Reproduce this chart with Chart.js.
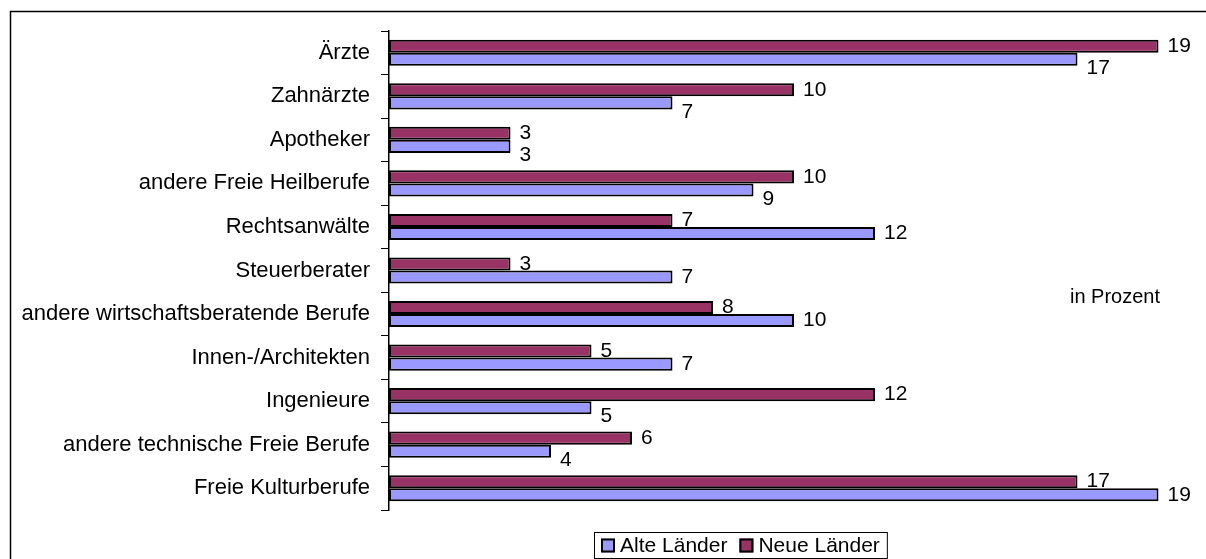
<!DOCTYPE html>
<html>
<head>
<meta charset="utf-8">
<script src="https://cdn.jsdelivr.net/npm/chart.js@4/dist/chart.umd.min.js"></script>
<style>
    html, body { margin: 0; padding: 0; background: #fff; }
    #wrap { position: relative; width: 1206px; height: 559px; }
</style>
</head>
<body>
<div id="wrap"><canvas id="chart" width="1206" height="559"></canvas></div>
<script>
const categories = ['Ärzte', 'Zahnärzte', 'Apotheker', 'andere Freie Heilberufe', 'Rechtsanwälte',
    'Steuerberater', 'andere wirtschaftsberatende Berufe', 'Innen-/Architekten', 'Ingenieure',
    'andere technische Freie Berufe', 'Freie Kulturberufe'];
const neueLaender = [19, 10, 3, 10, 7, 3, 8, 5, 12, 6, 17];
const alteLaender = [17, 7, 3, 9, 12, 7, 10, 7, 5, 4, 19];
const unitNote = 'in Prozent';

const FONT = '"Liberation Sans", Arial, sans-serif';

// frame, value labels, note and legend box
const decorations = {
    id: 'decorations',
    beforeDraw(chart) {
        const ctx = chart.ctx;
        ctx.save();
        ctx.strokeStyle = '#000';
        ctx.lineWidth = 1.5;
        ctx.beginPath();
        ctx.moveTo(10.5, chart.height);
        ctx.lineTo(10.5, 11.5);
        ctx.lineTo(chart.width, 11.5);
        ctx.stroke();
        ctx.restore();
    },
    afterDatasetsDraw(chart) {
        const ctx = chart.ctx;
        ctx.save();
        ctx.font = '21px ' + FONT;
        ctx.fillStyle = '#000';
        ctx.textAlign = 'left';
        ctx.textBaseline = 'middle';
        const neueMeta = chart.getDatasetMeta(0);
        const alteMeta = chart.getDatasetMeta(1);
        neueMeta.data.forEach((bar, i) => {
            ctx.fillText(String(neueLaender[i]), bar.x + 9, bar.y);
        });
        alteMeta.data.forEach((bar, i) => {
            // pushed below the bar when the upper bar reaches at least as far
            const dy = alteLaender[i] <= neueLaender[i] ? 9 : 0;
            ctx.fillText(String(alteLaender[i]), bar.x + 9, bar.y + dy);
        });
        ctx.font = '20px ' + FONT;
        ctx.fillText(unitNote, 1070, 297);
        ctx.restore();
    },
    afterDraw(chart) {
        const ctx = chart.ctx;
        const sets = [chart.data.datasets[1], chart.data.datasets[0]];
        ctx.save();
        ctx.font = '21px ' + FONT;
        ctx.textBaseline = 'middle';
        const box = 14, gap = 5, itemGap = 12, pad = 7;
        let total = pad;
        sets.forEach((ds, k) => {
            total += box + gap + ctx.measureText(ds.label).width;
            if (k < sets.length - 1) total += itemGap;
        });
        total += pad;
        const left = Math.round(740 - total / 2);
        const top = 532, h = 26;
        ctx.strokeStyle = '#000';
        ctx.lineWidth = 1;
        ctx.strokeRect(left + 0.5, top + 0.5, total, h);
        let x = left + pad;
        const cy = top + h / 2 + 0.5;
        sets.forEach(ds => {
            ctx.fillStyle = ds.backgroundColor;
            ctx.fillRect(x, cy - box / 2, box, box);
            ctx.lineWidth = 2;
            ctx.strokeRect(x + 1, cy - box / 2 + 1, box - 2, box - 2);
            x += box + gap;
            ctx.fillStyle = '#000';
            ctx.fillText(ds.label, x, cy + 1);
            x += ctx.measureText(ds.label).width + itemGap;
        });
        ctx.restore();
    }
};

new Chart(document.getElementById('chart'), {
    type: 'bar',
    data: {
        labels: categories,
        datasets: [
            {
                label: 'Neue Länder',
                data: neueLaender,
                backgroundColor: '#993366',
                borderColor: '#000',
                borderWidth: 2,
                borderSkipped: false,
                categoryPercentage: 0.6,
                barPercentage: 1
            },
            {
                label: 'Alte Länder',
                data: alteLaender,
                backgroundColor: '#9999FF',
                borderColor: '#000',
                borderWidth: 2,
                borderSkipped: false,
                categoryPercentage: 0.6,
                barPercentage: 1
            }
        ]
    },
    options: {
        indexAxis: 'y',
        responsive: false,
        animation: false,
        layout: { padding: { top: 31, right: 7, bottom: 49, left: 0 } },
        plugins: {
            legend: { display: false },
            tooltip: { enabled: false }
        },
        scales: {
            x: {
                display: false,
                min: 0,
                max: 20
            },
            y: {
                afterFit(scale) { scale.width = 389; },
                grid: {
                    offset: true,
                    drawOnChartArea: false,
                    drawTicks: true,
                    tickLength: 8,
                    color: '#000',
                    lineWidth: 1
                },
                border: { display: true, color: '#000', width: 1.5 },
                ticks: {
                    padding: 11,
                    color: '#000',
                    font: { family: FONT, size: 22 },
                    autoSkip: false
                }
            }
        }
    },
    plugins: [decorations]
});
</script>
</body>
</html>
